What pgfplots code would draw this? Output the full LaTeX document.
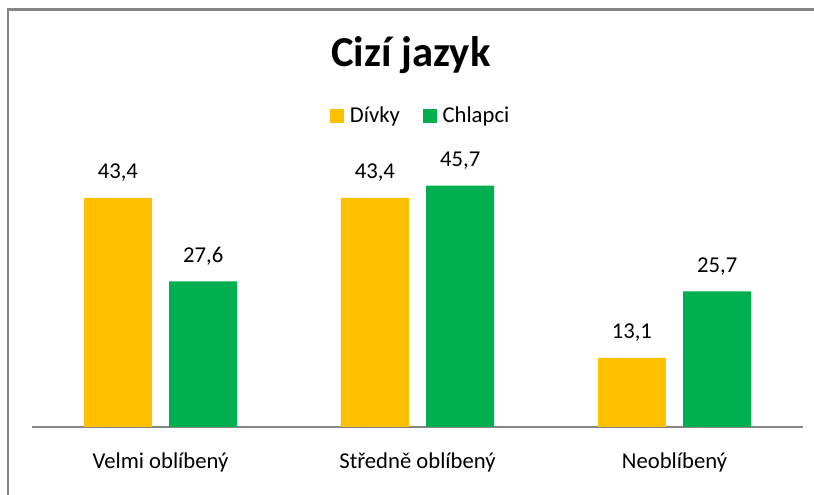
\documentclass[border=0pt]{standalone}
\usepackage{pgfplots}
\pgfplotsset{compat=1.18}
\usepackage{fontspec}
\setmainfont{Carlito}
\definecolor{dorange}{HTML}{FFC000}
\definecolor{cgreen}{HTML}{00B050}
\definecolor{framegray}{HTML}{868686}
\begin{document}
\begin{tikzpicture}
\useasboundingbox (0pt,0pt) rectangle (610.5pt,371.25pt);
% frame (top and left edges visible)
\draw[framegray, line width=1.6pt] (6pt,0pt) -- (6pt,364.1pt) -- (610.5pt,364.1pt);
\begin{axis}[
  at={(24pt,51pt)}, anchor=south west,
  scale only axis,
  width=578.25pt, height=198pt,
  ymin=0, ymax=50,
  xmin=-0.5, xmax=2.5,
  xtick={0,1,2},
  xticklabels={Velmi oblíbený, Středně oblíbený, Neoblíbený},
  ytick=\empty,
  axis x line=bottom, axis y line=none,
  x axis line style={framegray, line width=1.1pt, -},
  major tick length=0pt,
  xticklabel style={font=\fontsize{17}{20}\selectfont, inner sep=0pt, yshift=-19pt},
  ybar, bar width=51pt,
  nodes near coords,
  /pgf/number format/.cd, fixed, fixed zerofill, precision=1, use comma, assume math mode=true,
  /pgfplots/.cd,
  every node near coord/.append style={font=\fontsize{17}{20}\selectfont, black, inner sep=0pt, yshift=12pt},
  legend style={at={(0.5045,1.178)}, anchor=center, draw=none, fill=none,
    legend columns=2, font=\fontsize{17}{20}\selectfont,
    /tikz/every even column/.append style={column sep=15pt}},
  legend image code/.code={\fill[#1] (0pt,-5.2pt) rectangle (10.5pt,5.2pt); \path (13pt,0pt);},
  clip=false,
]
\addplot[fill=dorange, draw=none, bar shift=-32pt] coordinates {(0,43.4) (1,43.4) (2,13.1)};
\addplot[fill=cgreen, draw=none, bar shift=32pt] coordinates {(0,27.6) (1,45.7) (2,25.7)};
\legend{Dívky, Chlapci}
\node[font=\fontsize{32}{38}\selectfont\bfseries, anchor=center] at (rel axis cs:0.4915,1.409) {Cizí jazyk};
\end{axis}
\end{tikzpicture}
\end{document}
